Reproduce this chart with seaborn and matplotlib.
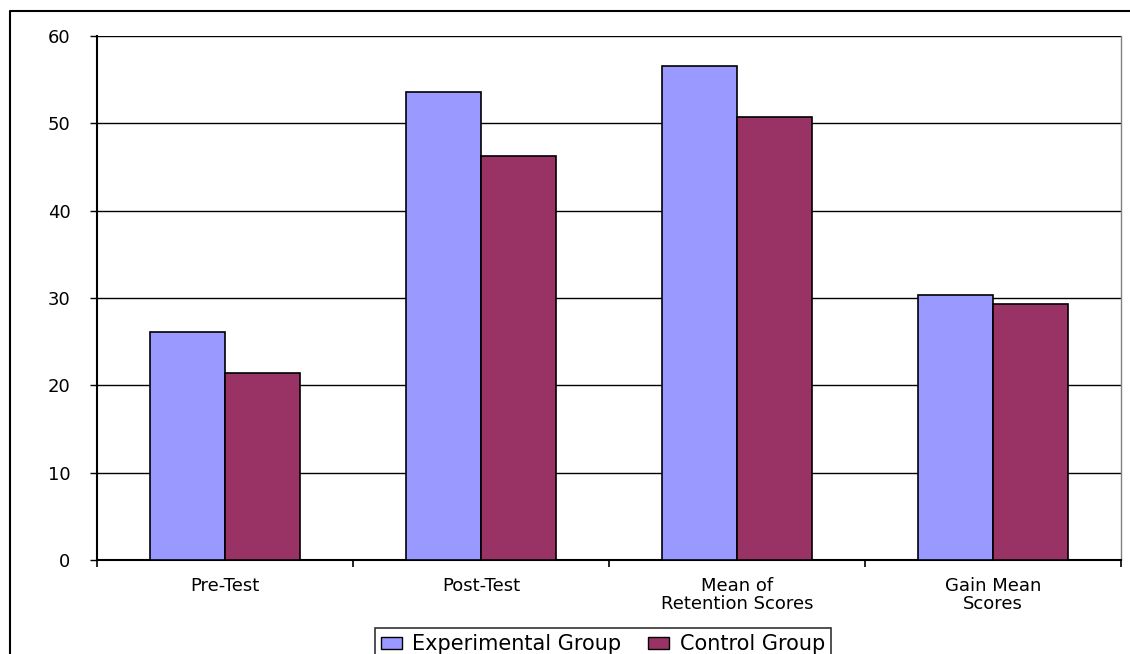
import matplotlib
matplotlib.use("Agg")
import matplotlib.pyplot as plt
import seaborn as sns
import pandas as pd
from matplotlib.lines import Line2D
from matplotlib.patches import Patch

categories = ["Pre-Test", "Post-Test", "Mean of\nRetention Scores", "Gain Mean\nScores"]
groups = ["Experimental Group", "Control Group"]
experimental = [26.1, 53.55, 56.6, 30.3]
control = [21.4, 46.3, 50.7, 29.3]
yticks = [0, 10, 20, 30, 40, 50, 60]
colors = ["#9999FF", "#993366"]

rows = []
for c, e, k in zip(categories, experimental, control):
    rows.append({"cat": c, "group": groups[0], "val": e})
    rows.append({"cat": c, "group": groups[1], "val": k})
df = pd.DataFrame(rows)

sns.set_style("white")
plt.rcParams['font.family'] = ['DejaVu Sans']
plt.rcParams['text.color'] = 'black'
plt.rcParams['xtick.color'] = 'black'
plt.rcParams['ytick.color'] = 'black'

fig = plt.figure(figsize=(11.3, 6.54), dpi=100)
ax = fig.add_axes([97/1130, (654-560)/654, (1121-97)/1130, (560-36)/654])

sns.barplot(data=df, x="cat", y="val", hue="group", order=categories, hue_order=groups,
            palette=colors, width=0.586, edgecolor="black", linewidth=1.2,
            ax=ax, legend=False, zorder=3, saturation=1)

ax.set_ylim(0, 60)
ax.set_xlim(-0.5, 3.5)
ax.set_yticks(yticks)
ax.set_yticklabels([str(v) for v in yticks], fontsize=13, color="black")
ax.yaxis.grid(True, color="black", linewidth=1.0, zorder=0)
ax.set_axisbelow(True)
ax.set_xlabel("")
ax.set_ylabel("")

# category labels at centers, tick marks at boundaries
ax.set_xticks([0, 1, 2, 3])
ax.set_xticklabels(categories, fontsize=13, linespacing=1.05, color="black")
ax.tick_params(axis="x", length=0, pad=12)
ax.set_xticks([-0.5, 0.5, 1.5, 2.5, 3.5], minor=True)
ax.tick_params(axis="x", which="minor", length=5, width=1.2, direction="out", color="black", bottom=True)
ax.tick_params(axis="y", length=5, width=1.0, direction="out", left=True, color="black", pad=14)

for s in ["left", "bottom"]:
    ax.spines[s].set_color("black")
    ax.spines[s].set_linewidth(1.5)
ax.spines["right"].set_color("#808080")
ax.spines["right"].set_linewidth(1.0)
ax.spines["top"].set_visible(False)

handles = [Patch(facecolor=colors[0], edgecolor="black", label=groups[0]),
           Patch(facecolor=colors[1], edgecolor="black", label=groups[1])]
leg = fig.legend(handles=handles, loc="upper center", bbox_to_anchor=(603/1130, (654-628)/654),
                 ncol=2, fontsize=15, frameon=True, fancybox=False, edgecolor="black",
                 handlelength=1.0, handleheight=0.5, handletextpad=0.5, columnspacing=1.3,
                 borderpad=0.3, borderaxespad=0, labelcolor="black")
leg.get_frame().set_linewidth(1.2)

# outer chart frame
fig.add_artist(Line2D([10/1130, 10/1130, 1.0], [0.0, 1-11/654, 1-11/654],
                      transform=fig.transFigure, color="black", linewidth=1.5))

fig.savefig("out.png", dpi=100)
